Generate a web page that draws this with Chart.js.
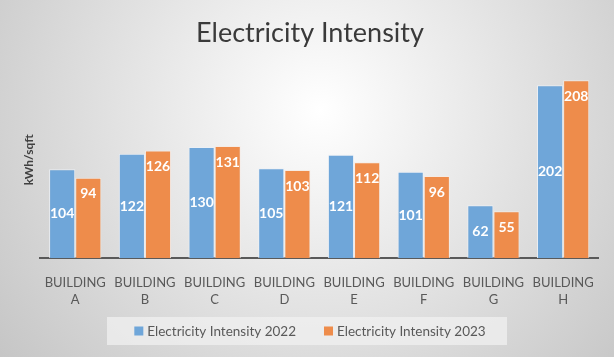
<!DOCTYPE html>
<html><head><meta charset="utf-8">
<script src="https://cdn.jsdelivr.net/npm/chart.js@4"></script>
<style>html,body{margin:0;padding:0;background:#fff}#wrap{width:614px;height:357px}</style>
</head><body><div id="wrap"><canvas id="c" width="614" height="357"></canvas></div>
<script>
const categories = [['BUILDING','A'],['BUILDING','B'],['BUILDING','C'],['BUILDING','D'],['BUILDING','E'],['BUILDING','F'],['BUILDING','G'],['BUILDING','H']];
const series2022 = [104,122,130,105,121,101,62,202];
const series2023 = [94,126,131,103,112,96,55,208];
const seriesNames = ['Electricity Intensity 2022','Electricity Intensity 2023'];
const chartTitle = 'Electricity Intensity';
const yTitle = 'kWh/sqft';

const FONT = 'Lato, "Open Sans", sans-serif';
const COLORS = ['#6fa6d9', '#ee8c4b'];

const bgPlugin = {
  id: 'bg',
  beforeDraw(chart) {
    const ctx = chart.ctx, w = chart.width, h = chart.height;
    ctx.save();
    const g = ctx.createRadialGradient(320, 110, 0, 320, 110, 430);
    g.addColorStop(0, '#ffffff');
    g.addColorStop(1, '#c2c2c2');
    ctx.fillStyle = g;
    ctx.fillRect(0, 0, w, h);
    ctx.restore();
  }
};

// custom legend drawn from the dataset names and colours
const legendPlugin = {
  id: 'customLegend',
  afterDraw(chart) {
    const ctx = chart.ctx;
    const cy = 331, cx = chart.width / 2;
    ctx.save();
    ctx.fillStyle = 'rgba(240,240,240,0.75)';
    ctx.fillRect(cx - 200, cy - 14, 400, 28);
    ctx.font = '13.5px ' + FONT;
    ctx.textBaseline = 'middle';
    ctx.textAlign = 'left';
    const ds = chart.data.datasets;
    const box = 9, gapBox = 4, gapItem = 28;
    const widths = ds.map(d => box + gapBox + ctx.measureText(d.label).width);
    const total = widths.reduce((a, b) => a + b, 0) + gapItem * (ds.length - 1);
    let x = cx - total / 2 + 3;
    ds.forEach((d, i) => {
      ctx.fillStyle = d.backgroundColor;
      ctx.fillRect(x, cy - box / 2, box, box);
      ctx.fillStyle = '#595959';
      ctx.fillText(d.label, x + box + gapBox, cy + 0.5);
      x += widths[i] + gapItem;
    });
    ctx.restore();
  }
};

const labelPlugin = {
  id: 'vlabels',
  afterDatasetsDraw(chart) {
    const ctx = chart.ctx;
    ctx.save();
    ctx.font = 'bold 14px ' + FONT;
    ctx.fillStyle = '#ffffff';
    ctx.textAlign = 'center';
    ctx.textBaseline = 'middle';
    chart.data.datasets.forEach((ds, di) => {
      const meta = chart.getDatasetMeta(di);
      meta.data.forEach((bar, i) => {
        const v = ds.data[i];
        let y;
        if (di === 0) y = (bar.y + bar.base) / 2;
        else y = bar.y + 16;
        ctx.fillText(String(v), bar.x, y);
      });
    });
    ctx.restore();
  }
};

new Chart(document.getElementById('c'), {
  type: 'bar',
  data: {
    labels: categories,
    datasets: [
      { label: seriesNames[0], data: series2022, backgroundColor: COLORS[0], borderColor: 'rgba(235,240,245,0.9)', borderWidth: 1, borderSkipped: 'bottom' },
      { label: seriesNames[1], data: series2023, backgroundColor: COLORS[1], borderColor: 'rgba(245,235,228,0.9)', borderWidth: 1, borderSkipped: 'bottom' }
    ]
  },
  options: {
    responsive: false,
    animation: false,
    devicePixelRatio: 1,
    categoryPercentage: 0.75,
    barPercentage: 1.0,
    layout: { padding: { left: 22, right: 16, top: 0, bottom: 41 } },
    plugins: {
      title: { display: true, text: chartTitle, color: '#3a3a3a', font: { family: FONT, size: 27, weight: 'normal' }, padding: { top: 17, bottom: 12 } },
      legend: { display: false },
      tooltip: { enabled: false }
    },
    scales: {
      x: {
        grid: { display: false },
        border: { display: true, color: '#595959', width: 2 },
        ticks: { color: '#595959', font: { family: FONT, size: 13, lineHeight: 1.3 }, maxRotation: 0, padding: 8 }
      },
      y: {
        min: 0, max: 230,
        grid: { display: false },
        border: { display: false },
        ticks: { display: false },
        title: { display: true, text: yTitle, color: '#404040', font: { family: FONT, size: 12, weight: 'bold' }, padding: { top: 0, bottom: -4 } }
      }
    }
  },
  plugins: [bgPlugin, labelPlugin, legendPlugin]
});
</script></body></html>
